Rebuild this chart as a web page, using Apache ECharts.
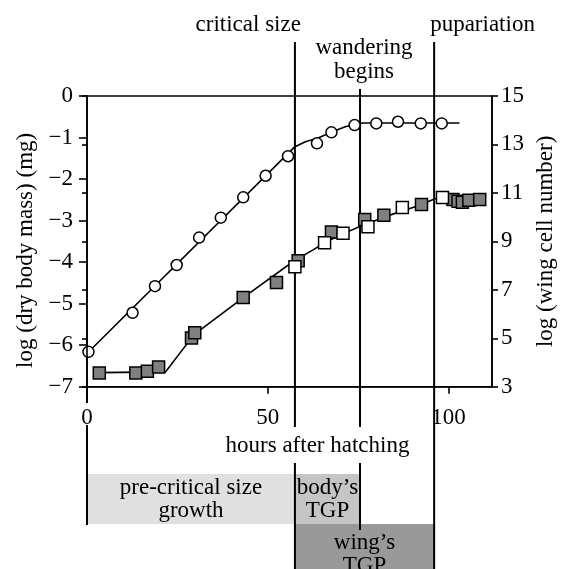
<!DOCTYPE html>
<html><head><meta charset="utf-8">
<script src="https://cdn.jsdelivr.net/npm/echarts@6/dist/echarts.min.js"></script>
<style>html,body{margin:0;padding:0;background:#fff}#c{width:563px;height:569px}</style>
</head><body><div id="c"></div>
<script>
// ---------- data ----------
const circleHours = [0.4, 12.6, 18.8, 24.8, 31.0, 37.0, 43.2, 49.4, 55.6, 63.6, 67.6, 74.0, 80.0, 86.0, 92.3, 98.1];
const circleMass  = [-6.16, -5.22, -4.58, -4.07, -3.41, -2.93, -2.44, -1.92, -1.45, -1.14, -0.875, -0.70, -0.66, -0.62, -0.66, -0.66];
const massFitHours  = [0, 57.5, 60.4, 63.9, 67.9, 71.4, 73.8, 76.3, 103];
const massFitValues = [-6.2, -1.22, -1.10, -1.01, -0.86, -0.74, -0.69, -0.65, -0.65];
const graySqHours = [3.4, 13.5, 16.7, 19.8, 28.9, 29.8, 43.2, 52.4, 58.4, 67.6, 76.8, 82.1, 92.5, 101.2, 102.6, 103.8, 105.6, 108.6];
const graySqCells = [3.57, 3.57, 3.64, 3.81, 5.01, 5.23, 6.68, 7.30, 8.20, 9.39, 9.90, 10.08, 10.52, 10.73, 10.66, 10.61, 10.70, 10.73];
const whiteSqHours = [57.5, 65.7, 70.8, 77.7, 87.2, 98.3];
const whiteSqCells = [7.95, 8.94, 9.33, 9.60, 10.40, 10.81];
const cellFitHours  = [3, 21.7, 29.6, 43.5, 57.5, 62.4, 65.9, 71.4, 75.3, 82.3, 92.2, 96.2, 109.5];
const cellFitValues = [3.58, 3.61, 5.15, 6.71, 8.22, 8.64, 8.96, 9.35, 9.60, 10.01, 10.50, 10.76, 10.76];

const eventHours  = [57.5, 75.5, 96];
const eventLabels = ['critical size', 'wandering\nbegins', 'pupariation'];
const bandStart  = [0, 57.5, 57.5];
const bandEnd    = [57.5, 75.5, 96];
const bandLabels = ['pre-critical size\ngrowth', 'body\u2019s\nTGP', 'wing\u2019s\nTGP'];

// ---------- layout / style ----------
const FONT = '"Liberation Serif", "Times New Roman", serif';
const FS = 23;
const G = {left: 87, right: 71, top: 96, height: 290.7};
const zeroLineSpans = [[387, 403], [425, 525]];
const eventLineSpans = [[[42, 427], [463, 569]], [[89, 427], [463, 530]], [[42, 569]]];
const eventLabelPos = [{dx: 6, y: 25, align: 'right'}, {dx: 4, y: 60, align: 'center'}, {dx: -4, y: 25, align: 'left'}];
const bandRows = [[474, 524], [474, 524], [524, 584]];
const bandColors = ['#e0e0e0', '#c5c5c5', '#999999'];
const LW = 1.6;

const zip = (a, b) => a.map((v, i) => [v, b[i]]);
const fmtNeg = v => (v < 0 ? '\u2212' + Math.abs(v) : String(v));

const lineItems = [{h: 0, spans: zeroLineSpans}].concat(eventHours.map((h, i) => ({h, spans: eventLineSpans[i]})));

const chart = echarts.init(document.getElementById('c'), null, {renderer: 'canvas'});
chart.setOption({
  backgroundColor: '#fff',
  animation: false,
  textStyle: {fontFamily: FONT},
  grid: [
    {left: G.left, right: G.right, top: G.top, height: G.height, show: true, borderColor: '#000', borderWidth: LW, backgroundColor: 'transparent', outerBoundsMode: 'none', containLabel: false},
    {left: G.left, right: G.right, top: 0, bottom: 0, show: false, outerBoundsMode: 'none', containLabel: false}
  ],
  xAxis: [
    {gridIndex: 0, type: 'value', min: 0, max: 112, interval: 50, z: 5,
     axisLine: {show: true, onZero: false, lineStyle: {color: '#000', width: LW}},
     axisTick: {show: true, inside: false, length: 7, lineStyle: {color: '#000', width: LW}},
     splitLine: {show: false},
     axisLabel: {color: '#000', fontFamily: FONT, fontSize: FS, margin: 20, showMaxLabel: false},
     name: 'hours after hatching', nameLocation: 'middle', nameGap: 43,
     nameTextStyle: {color: '#000', fontFamily: FONT, fontSize: FS, padding: [0, 0, 0, 56]}},
    {gridIndex: 1, type: 'value', min: 0, max: 112, show: false}
  ],
  yAxis: [
    {gridIndex: 0, type: 'value', min: -7, max: 0, interval: 1, position: 'left', z: 5,
     axisLine: {show: true, onZero: false, lineStyle: {color: '#000', width: LW}},
     axisTick: {show: true, inside: false, length: 8, lineStyle: {color: '#000', width: LW}},
     splitLine: {show: false},
     axisLabel: {color: '#000', fontFamily: FONT, fontSize: FS, margin: 14, formatter: fmtNeg},
     name: 'log (dry body mass) (mg)', nameLocation: 'middle', nameGap: 50, nameRotate: 90,
     nameTextStyle: {color: '#000', fontFamily: FONT, fontSize: FS, padding: [0, 18, 0, 0]}},
    {gridIndex: 0, type: 'value', min: 3, max: 15, interval: 2, position: 'right', z: 5,
     axisLine: {show: true, onZero: false, lineStyle: {color: '#000', width: LW}},
     axisTick: {show: true, inside: false, length: 6, lineStyle: {color: '#000', width: LW}},
     splitLine: {show: false},
     axisLabel: {color: '#000', fontFamily: FONT, fontSize: FS, margin: 9},
     name: 'log (wing cell number)', nameLocation: 'middle', nameGap: 42, nameRotate: 90,
     nameTextStyle: {color: '#000', fontFamily: FONT, fontSize: FS}},
    {gridIndex: 0, type: 'value', min: 3, max: 15, interval: 2, position: 'right', z: 5,
     axisLine: {show: false}, axisLabel: {show: false}, splitLine: {show: false},
     axisTick: {show: true, inside: true, length: 5, lineStyle: {color: '#000', width: LW}}},
    {gridIndex: 1, type: 'value', min: 0, max: 569, inverse: true, show: false}
  ],
  series: [
    {type: 'custom', xAxisIndex: 1, yAxisIndex: 3, z: 0, clip: false, silent: true,
     data: bandStart.map((s, i) => [s, bandEnd[i]]),
     renderItem(params, api) {
       const i = params.dataIndex;
       const p0 = api.coord([bandStart[i], bandRows[i][0]]);
       const p1 = api.coord([bandEnd[i], bandRows[i][1]]);
       return {type: 'group', children: [
         {type: 'rect', shape: {x: p0[0], y: p0[1], width: p1[0] - p0[0], height: p1[1] - p0[1]}, style: {fill: bandColors[i]}},
         {type: 'text', z2: 5, style: {text: bandLabels[i], x: (p0[0] + p1[0]) / 2, y: (p0[1] + p1[1]) / 2,
           align: 'center', verticalAlign: 'middle', font: FS + 'px ' + FONT, lineHeight: 23, fill: '#000'}}
       ]};
     }},
    {type: 'custom', xAxisIndex: 1, yAxisIndex: 3, z: 1, clip: false, silent: true,
     data: lineItems.map(d => [d.h, 0]),
     renderItem(params, api) {
       const d = lineItems[params.dataIndex];
       return {type: 'group', children: d.spans.map(s => {
         const a = api.coord([d.h, s[0]]), b = api.coord([d.h, s[1]]);
         return {type: 'line', shape: {x1: a[0], y1: a[1], x2: b[0], y2: b[1]}, style: {stroke: '#000', lineWidth: 2}};
       })};
     }},
    {type: 'custom', xAxisIndex: 1, yAxisIndex: 3, z: 1, clip: false, silent: true,
     data: eventHours.map(h => [h, 0]),
     renderItem(params, api) {
       const i = params.dataIndex;
       const pos = eventLabelPos[i];
       const p = api.coord([eventHours[i], pos.y]);
       return {type: 'text', style: {text: eventLabels[i], x: p[0] + pos.dx, y: p[1], align: pos.align,
         verticalAlign: 'middle', font: FS + 'px ' + FONT, lineHeight: 24, fill: '#000'}};
     }},
    {type: 'line', xAxisIndex: 0, yAxisIndex: 0, z: 2, data: zip(massFitHours, massFitValues), smooth: false,
     showSymbol: false, symbol: 'none', lineStyle: {color: '#000', width: LW}, silent: true},
    {type: 'line', xAxisIndex: 0, yAxisIndex: 1, z: 2, data: zip(cellFitHours, cellFitValues), smooth: false,
     showSymbol: false, symbol: 'none', lineStyle: {color: '#000', width: LW}, silent: true},
    {type: 'scatter', xAxisIndex: 0, yAxisIndex: 0, z: 3, data: zip(circleHours, circleMass), symbol: 'circle', symbolSize: 11,
     itemStyle: {color: '#fff', borderColor: '#000', borderWidth: 1.5, opacity: 1}},
    {type: 'scatter', xAxisIndex: 0, yAxisIndex: 1, z: 3, data: zip(graySqHours, graySqCells), symbol: 'rect', symbolSize: 12,
     itemStyle: {color: '#808080', borderColor: '#000', borderWidth: 1.5, opacity: 1}},
    {type: 'scatter', xAxisIndex: 0, yAxisIndex: 1, z: 4, data: zip(whiteSqHours, whiteSqCells), symbol: 'rect', symbolSize: 12,
     itemStyle: {color: '#fff', borderColor: '#000', borderWidth: 1.5, opacity: 1}}
  ]
});
</script>
</body></html>
